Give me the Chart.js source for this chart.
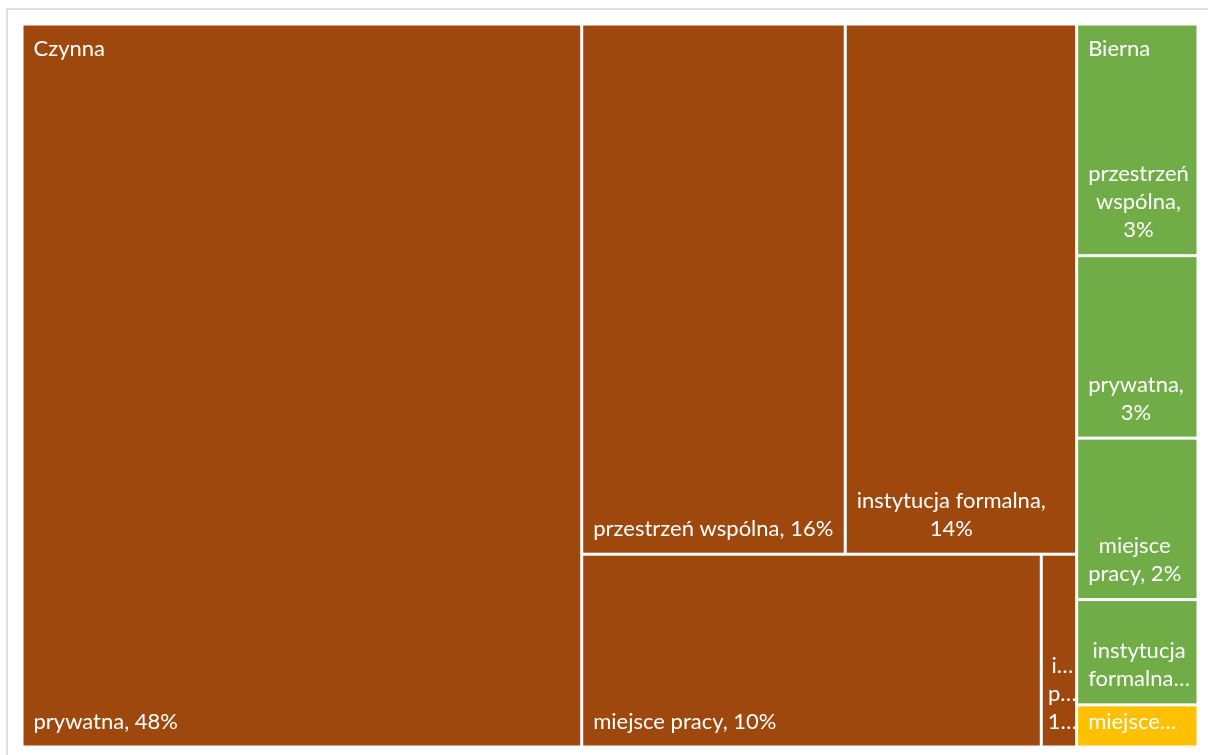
<!DOCTYPE html>
<html>
<head>
<meta charset="utf-8">
<script src="https://cdn.jsdelivr.net/npm/chart.js@4.4.1/dist/chart.umd.min.js"></script>
<style>
  html, body { margin:0; padding:0; background:#fff; overflow:hidden; }
  #frame { position:absolute; left:6px; top:8px; width:1300px; height:900px; border:2px solid #dedede; }
  #myChart { position:absolute; left:0; top:0; }
</style>
</head>
<body>
<div id="frame"></div>
<canvas id="myChart" width="1208" height="755"></canvas>
<script>
// top level groups
const groups = ['Czynna', 'Bierna', 'Mieszana'];
const groupColors = ['#9E480E', '#70AD47', '#FFC000'];

// leaves per group (share in %)
const czynnaLabels = ['prywatna', 'przestrzeń wspólna', 'instytucja formalna', 'miejsce pracy', 'inna przestrzeń'];
const czynnaValues = [47.5, 16.4, 14.4, 10.4, 0.8];
const biernaLabels = ['przestrzeń wspólna', 'prywatna', 'miejsce pracy', 'instytucja formalna'];
const biernaValues = [3.3, 2.6, 2.3, 1.5];
const mieszanaLabels = ['miejsce pracy'];
const mieszanaValues = [0.6];

const leafLabels = [czynnaLabels, biernaLabels, mieszanaLabels];
const leafValues = [czynnaValues, biernaValues, mieszanaValues];

const FONT = '22px Lato';
const LINE_H = 28;

// build the tree from the arrays
const tree = groups.map((g, i) => {
    const leaves = leafLabels[i].map((l, j) => ({ name: l, value: leafValues[i][j] }));
    return { name: g, color: groupColors[i], leaves: leaves, value: leaves.reduce((a, b) => a + b.value, 0) };
});

// worst aspect ratio of a strip
function worst(vals, side, scale) {
    const thick = vals.reduce((a, b) => a + b, 0) * scale / side;
    let w = 0;
    vals.forEach(v => {
        const len = v * scale / thick;
        w = Math.max(w, thick / len, len / thick);
    });
    return w;
}

// squarified layout (rows keep growing while cells stay reasonably square)
function squarify(items, rect) {
    const sorted = items.slice().sort((a, b) => b.value - a.value);
    const total = sorted.reduce((a, b) => a + b.value, 0);
    const scale = rect.w * rect.h / total;
    let r = { x: rect.x, y: rect.y, w: rect.w, h: rect.h };
    const out = [];
    let i = 0;
    while (i < sorted.length) {
        const side = Math.min(r.w, r.h);
        const row = [sorted[i]];
        i++;
        let cur = worst(row.map(d => d.value), side, scale);
        while (i < sorted.length) {
            const next = worst(row.concat(sorted[i]).map(d => d.value), side, scale);
            if (next <= Math.max(cur, 3)) { row.push(sorted[i]); cur = next; i++; } else break;
        }
        const thick = row.reduce((a, b) => a + b.value, 0) * scale / side;
        let off = 0;
        if (r.w >= r.h) {
            row.forEach(d => {
                const len = d.value * scale / thick;
                out.push({ item: d, x: r.x, y: r.y + off, w: thick, h: len });
                off += len;
            });
            r = { x: r.x + thick, y: r.y, w: r.w - thick, h: r.h };
        } else {
            row.forEach(d => {
                const len = d.value * scale / thick;
                out.push({ item: d, x: r.x + off, y: r.y, w: len, h: thick });
                off += len;
            });
            r = { x: r.x, y: r.y + thick, w: r.w, h: r.h - thick };
        }
    }
    return out;
}

function fitText(ctx, s, maxW) {
    if (ctx.measureText(s).width <= maxW) return s;
    let t = s;
    while (t.length > 1 && ctx.measureText(t + '…').width > maxW) t = t.slice(0, -1);
    return t + '…';
}

function wrapLines(ctx, text, maxW, maxLines) {
    const words = text.split(' ');
    let lines = [];
    let cur = '';
    words.forEach(w => {
        const test = cur ? cur + ' ' + w : w;
        if (ctx.measureText(test).width <= maxW || !cur) {
            cur = test;
        } else {
            lines.push(cur);
            cur = w;
        }
    });
    if (cur) lines.push(cur);
    lines = lines.map(l => fitText(ctx, l, maxW));
    if (lines.length > maxLines) {
        lines = lines.slice(0, maxLines);
        let t = lines[maxLines - 1].replace(/…$/, '');
        while (t.length > 1 && ctx.measureText(t + '…').width > maxW) t = t.slice(0, -1);
        lines[maxLines - 1] = t + '…';
    }
    return lines;
}

const treemapPlugin = {
    id: 'treemapCells',
    afterDatasetsDraw(chart) {
        const ctx = chart.ctx;
        const area = chart.chartArea;
        const xs = chart.scales.x, ys = chart.scales.y;
        const W = area.right - area.left, H = area.bottom - area.top;

        // layout in pixel proportions, then expressed in scale units (0..100)
        const cells = [];
        squarify(tree, { x: 0, y: 0, w: W, h: H }).forEach(g => {
            squarify(g.item.leaves, g).forEach(c => {
                cells.push({
                    group: g.item,
                    header: Math.abs(c.x - g.x) < 0.5 && Math.abs(c.y - g.y) < 0.5,
                    leaf: c.item,
                    x0: c.x / W * 100, x1: (c.x + c.w) / W * 100,
                    y0: c.y / H * 100, y1: (c.y + c.h) / H * 100
                });
            });
        });

        ctx.save();
        ctx.font = FONT;
        cells.forEach(c => {
            const left = xs.getPixelForValue(c.x0), right = xs.getPixelForValue(c.x1);
            const top = ys.getPixelForValue(c.y0), bottom = ys.getPixelForValue(c.y1);
            const x = left + 1.5, y = top + 1.5, w = right - left - 3, h = bottom - top - 3;
            ctx.fillStyle = c.group.color;
            ctx.fillRect(x, y, w, h);

            ctx.fillStyle = '#ffffff';
            ctx.textBaseline = 'alphabetic';
            const padL = w < 60 ? 5 : 10;
            const maxW = w - padL - 4;
            let reserved = 0;
            if (c.header && h > 80) {
                ctx.textAlign = 'left';
                ctx.fillText(c.group.name, x + padL, y + 30);
                reserved = 40;
            }
            const label = c.leaf.name + ', ' + Math.round(c.leaf.value) + '%';
            const maxLines = Math.max(1, Math.floor((h - reserved - 20) / LINE_H));
            const lines = wrapLines(ctx, label, maxW, maxLines);
            const blockW = Math.max(...lines.map(l => ctx.measureText(l).width));
            const cx = x + padL + blockW / 2;
            ctx.textAlign = 'center';
            lines.forEach((l, k) => {
                const base = y + h - 17 - (lines.length - 1 - k) * LINE_H;
                ctx.fillText(l, cx, base);
            });
        });
        ctx.restore();
    }
};

function loadTreemap() {
    const ctx = document.getElementById('myChart').getContext('2d');
    new Chart(ctx, {
        type: 'scatter',
        data: {
            datasets: groups.map((g, i) => ({ label: g, data: [], backgroundColor: groupColors[i] }))
        },
        options: {
            responsive: false,
            animation: false,
            layout: { padding: { left: 22, top: 24, right: 10, bottom: 8 } },
            plugins: { legend: { display: false }, tooltip: { enabled: false } },
            scales: {
                x: { type: 'linear', min: 0, max: 100, display: false },
                y: { type: 'linear', min: 0, max: 100, reverse: true, display: false }
            }
        },
        plugins: [treemapPlugin]
    });
}
document.fonts.load(FONT).then(loadTreemap, loadTreemap);
</script>
</body>
</html>
